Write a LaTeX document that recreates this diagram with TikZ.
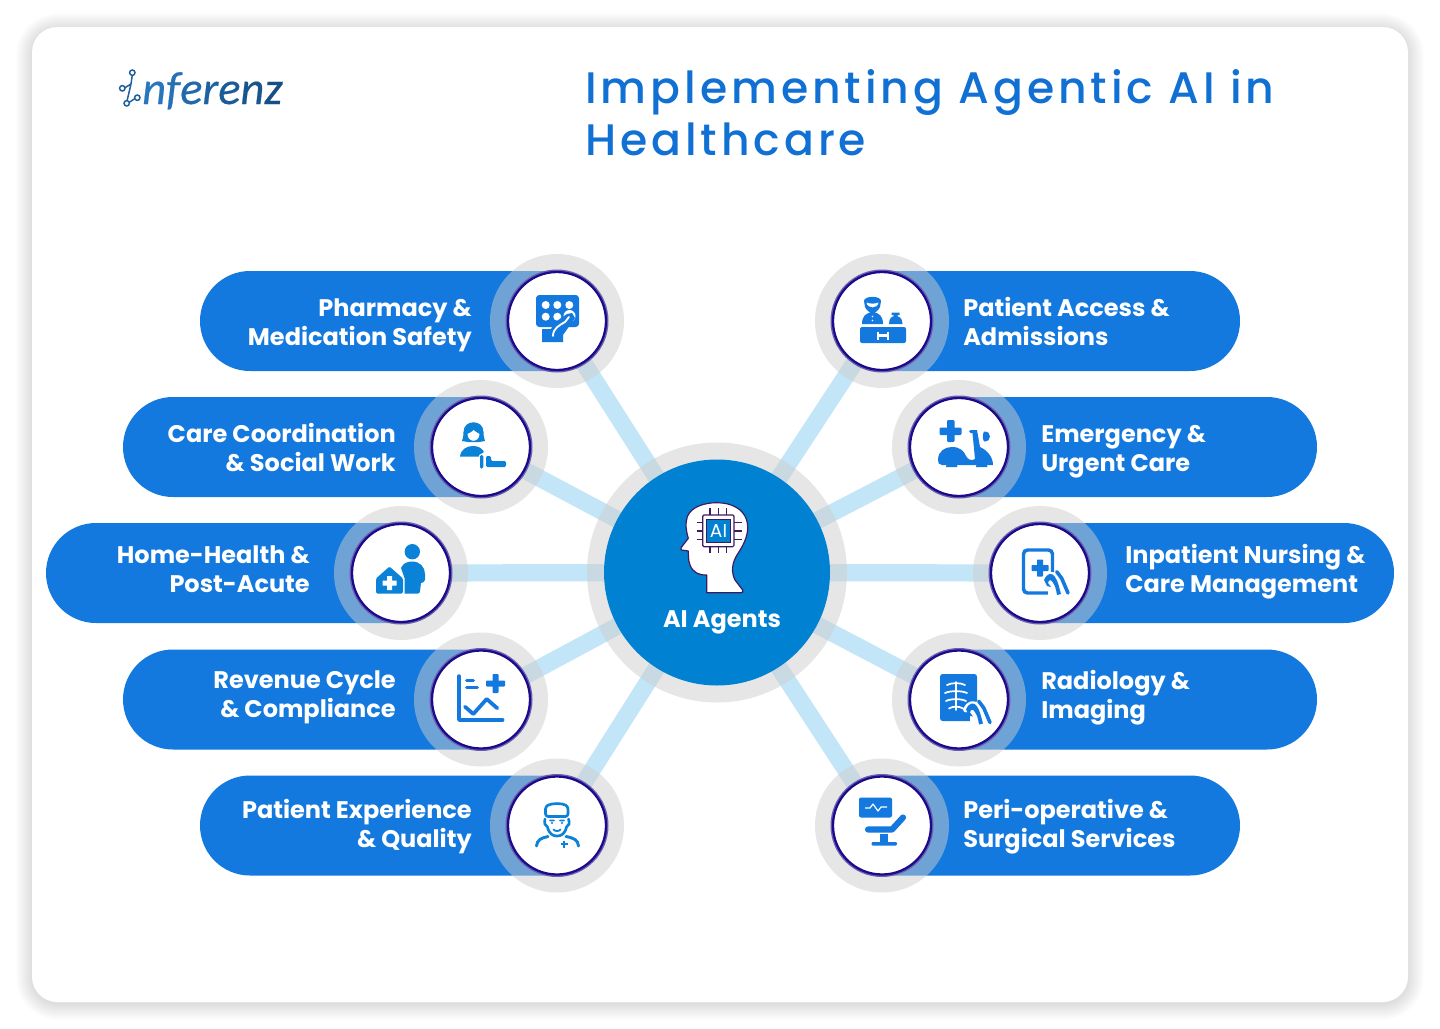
\documentclass[tikz,border=0pt]{standalone}
\usepackage{fontspec}
\setmainfont{Poppins}
\newfontfamily\popsb{Poppins}[UprightFont=* Bold]
\newfontfamily\popmed[LetterSpace=8.9]{Poppins Medium}
\newfontfamily\logof[ItalicFont=Carlito Italic,ItalicFeatures={FakeBold=0.4}]{Carlito}
\usetikzlibrary{calc}
\pgfdeclarelayer{pilllayer}\pgfdeclarelayer{connlayer}\pgfdeclarelayer{halolayer}
\pgfsetlayers{pilllayer,connlayer,halolayer,main}
\definecolor{pillc}{HTML}{1379DE}
\definecolor{hubc}{HTML}{0081D2}
\definecolor{connc}{HTML}{C2E5F8}
\definecolor{haloc}{HTML}{CECECE}
\definecolor{navyc}{HTML}{1A0A8C}
\definecolor{ringc}{HTML}{6B5EAE}
\definecolor{icA}{HTML}{1379DE}
\definecolor{icB}{HTML}{0A82D8}
\definecolor{titlec}{HTML}{1170D3}
\definecolor{headc}{HTML}{3E1A5E}
\tikzset{
  x=0.75pt,y=-0.75pt,
  conn/.style={draw=connc,line width=12.9pt},
  halo/.style={fill=haloc,fill opacity=.5},
  ring/.style={fill=ringc},
  disc/.style={circle,fill=white,draw=navyc,line width=1.7pt,minimum size=73.5pt,inner sep=0pt,outer sep=0pt},
  hubnode/.style={circle,fill=hubc,minimum size=169.5pt,inner sep=0pt,outer sep=0pt},
  lbl/.style={font=\popsb\fontsize{18pt}{21.75pt}\selectfont,text=white,inner sep=0pt},
  lblL/.style={lbl,align=right,anchor=east},
  lblR/.style={lbl,align=left,anchor=west},
  titlet/.style={font=\popmed\fontsize{33.1pt}{39pt}\selectfont,text=titlec,inner sep=0pt,anchor=base west},
  logot/.style={font=\logof\itshape\fontsize{34.8pt}{37pt}\selectfont,inner sep=0pt,anchor=base west},
}
\newcommand{\pillL}[3]{\fill[pillc] (#2,#3) [rounded corners=37.5pt] -- (#1,#3) -- (#1,#3+100) [sharp corners] -- (#2,#3+100) -- cycle;}
\newcommand{\pillR}[3]{\fill[pillc] (#1,#3) [rounded corners=37.5pt] -- (#2,#3) -- (#2,#3+100) [sharp corners] -- (#1,#3+100) -- cycle;}
\newcommand{\spoke}[4]{%
  \node[disc] (#1) at (#2,#3) {};
  \begin{pgfonlayer}{halolayer}
    \fill[halo] (#2,#3) circle[radius=67];
    \fill[ring] (#2,#3) circle[radius=51.5];
  \end{pgfonlayer}
  \begin{pgfonlayer}{connlayer}
    \draw[conn] (hub) -- (#1);
  \end{pgfonlayer}
}
\newcommand{\handicon}[2]{%
\begin{scope}[shift={(#1,#2)}]
  \fill[white] (-4,-7) -- (3,-9) -- (8,-3) -- (11,14) -- (-4,16) -- cycle;
  \draw[white,line width=4.4pt,line cap=round,line join=round] (-8,-1) .. controls (-5,-7) and (0,-8) .. (3,-4) .. controls (6,0) and (7,6) .. (9,13);
  \draw[icA,line width=2.7pt,line cap=round,line join=round] (4.7,-9.3) -- (9.7,-2.7) -- (16,12);
  \fill[icA,line join=round] (-8,-1) .. controls (-5,-8) and (0,-9) .. (3,-4) .. controls (6,0) and (7,6) .. (9,13) -- (5,14) .. controls (4,8) and (3,4) .. (0.5,1) .. controls (-1.5,-2) and (-3.5,-1) .. (-4,2) -- (-1,6) -- (-5,5) -- cycle;
\end{scope}}
\begin{document}
\begin{tikzpicture}
\useasboundingbox (0,0) rectangle (1440,1029);
\begin{pgfonlayer}{pilllayer}
  \fill[white] (0,0) rectangle (1440,1029);
  \foreach \i in {1,...,16}{
    \fill[black,opacity=.006,rounded corners={(26+\i)*0.75pt}] ({32-\i},{29-\i}) rectangle ({1408+\i},{1004+\i});
  }
  \fill[white,rounded corners=19pt] (32,27) rectangle (1408,1002);
  \pillL{200}{557}{271}
  \pillL{123}{481}{397}
  \pillL{46}{401}{523}
  \pillL{123}{481}{649.5}
  \pillL{200}{557}{775.5}
  \pillR{882}{1240}{271}
  \pillR{959}{1317}{397}
  \pillR{1040}{1394}{523}
  \pillR{959}{1317}{649.5}
  \pillR{882}{1240}{775.5}
\end{pgfonlayer}

% hub
\node[hubnode] (hub) at (717,572.5) {};
\begin{pgfonlayer}{halolayer}
  \fill[halo] (717,572.5) circle[radius=130];
\end{pgfonlayer}

\spoke{nPharm}{557}{321}{}
\spoke{nCare}{481}{447}{}
\spoke{nHome}{401}{573}{}
\spoke{nRev}{481}{699.5}{}
\spoke{nExp}{557}{825.5}{}
\spoke{nAccess}{882}{321}{}
\spoke{nEmerg}{959}{447}{}
\spoke{nInpat}{1040}{573}{}
\spoke{nRadio}{959}{699.5}{}
\spoke{nPeri}{882}{825.5}{}

% title and logo
\node[titlet] (title1) at (585,103) {Implementing Agentic AI in};
\node[titlet] (title2) at (585,155.5) {Healthcare};
\node[logot] (logoa) at (142,104) {\textcolor[HTML]{2A76BC}{n}\textcolor[HTML]{2570B6}{f}\textcolor[HTML]{2169AA}{e}\textcolor[HTML]{1E629F}{r}\textcolor[HTML]{1B5C96}{e}\textcolor[HTML]{18568C}{n}\textcolor[HTML]{154F83}{z}};
\begin{scope}[line width=1.1pt]
  \draw[color={rgb,255:red,31;green,95;blue,158}] (132.3,75)--(131,84)--(127,101) (124.5,88)--(131,84) (129,102.5)--(135,98.5);
  \foreach \a/\b in {132.3/72.7,122.3/88.3,126.7/103.3,137.3/97.7}
    \draw[color={rgb,255:red,31;green,95;blue,158},fill=white] (\a,\b) circle[radius=2.7];
\end{scope}

% labels
\node[lblL] (tPharm) at (472,325) {Pharmacy \&\\Medication Safety};
\node[lblL] (tCare) at (396,448) {Care Coordination\\\& Social Work};
\node[lblL] (tHome) at (310,569) {Home-Health \&\\Post-Acute};
\node[lblL] (tRev) at (396,697.5) {Revenue Cycle\\\& Compliance};
\node[lblL] (tExp) at (472,827) {Patient Experience\\\& Quality};
\node[lblR] (tAccess) at (963,321) {Patient Access \&\\Admissions};
\node[lblR] (tEmerg) at (1041,451.5) {Emergency \&\\Urgent Care};
\node[lblR] (tInpat) at (1125,571.5) {Inpatient Nursing \&\\Care Management};
\node[lblR] (tRadio) at (1041,697.5) {Radiology \&\\Imaging};
\node[lblR] (tPeri) at (963,827) {Peri-operative \&\\Surgical Services};
\node[font=\popsb\fontsize{18pt}{21pt}\selectfont,text=white,inner sep=0pt] (tHub) at (722,622.5) {AI Agents};

% hub head icon
\draw[fill=white,draw=headc,line width=.9pt,line join=round]
  (706.7,592.7)--(706.7,575) .. controls (700,575.5) and (693,573) .. (690,565)
  .. controls (688,560) and (688.5,555) .. (688.3,551) -- (681.5,550) .. controls (680,549) and (681,548) .. (682,546.5)
  -- (688.3,538.3) .. controls (686,530) and (685,524) .. (687.3,516.7)
  .. controls (691,507) and (704,502.7) .. (716.7,502.7)
  .. controls (732,502.7) and (743,509) .. (746.7,520)
  .. controls (750,532) and (745,543) .. (737,555) .. controls (732,563) and (731,572) .. (735,580)
  -- (742.7,590) .. controls (743.5,592) and (742.5,592.7) .. (741,592.7) -- cycle;
\draw[headc,line width=.9pt] (710,508.3)--(710,515) (718.3,508.3)--(718.3,515) (726.7,508.3)--(726.7,515)
  (710,546.7)--(710,553) (718.3,546.7)--(718.3,553) (726.7,546.7)--(726.7,553)
  (696.7,522.7)--(702.7,522.7) (696.7,531)--(702.7,531) (696.7,539.3)--(702.7,539.3)
  (734,522.7)--(741.7,522.7) (734,531)--(741.7,531) (734,539.3)--(741.7,539.3);
\draw[headc,fill=white,line width=.9pt,rounded corners=1pt] (702.7,515) rectangle (734,546.7);
\draw[headc,fill=hubc,line width=.7pt] (706.7,519) rectangle (730.3,542.7);
\node[text=white,inner sep=0pt,font=\fontsize{14pt}{14pt}\selectfont] (tAI) at (718.5,531) {AI};

% Pharmacy icon
\fill[icA,rounded corners=2.5pt] (536,295) rectangle (579,327);
\foreach \a in {545.7,557.3,569.3}{\fill[white] (\a,305) circle[radius=4];}
\foreach \a in {545.7,557.3}{\fill[white] (\a,316.7) circle[radius=4];}
\fill[white] (569.5,316) circle[radius=6];
\fill[icA] (542,329)--(551,329)--(554,323)--(567,314)--(572,313)--(575,318)--(563,335)--(563,342)--(542,342)--cycle;
\draw[white,line width=1.4pt,line cap=round] (553,336) .. controls (553,328) and (560,325) .. (565,322) -- (569,317);

% Care icon
\fill[icB] (462,441) .. controls (463,438) and (463.5,436) .. (463.5,432) .. controls (463.5,419) and (483.5,419) .. (483.5,432) .. controls (483.5,436) and (484,438) .. (485,441) -- (479,442) -- (468,442) -- cycle;
\fill[white] (467.5,434) .. controls (470,433) and (473,431) .. (473.5,430) .. controls (475,431) and (477,433) .. (479.5,434) .. controls (479,443) and (468,443) .. (467.5,434) -- cycle;
\fill[icB] (460,456.5) .. controls (461,449) and (467,446) .. (473,446) .. controls (478,446) and (482,448) .. (484,452) -- (479,455) -- (479,456.5) -- cycle;
\fill[icB,rounded corners=1pt] (480,455) rectangle (483.3,468.5);
\fill[icB,rounded corners=1pt] (486,456) -- (491,456) -- (491,461) -- (506,461) -- (506,467) -- (486,467) -- cycle;

% Home icon
\fill[icB] (412.3,551.7) circle[radius=7.7];
\fill[icB] (401,568) .. controls (403,563) and (408,561.5) .. (412,561.5) .. controls (420,561.5) and (425,567) .. (425,574) -- (425,580) .. controls (425,582) and (422,583) .. (421,583) -- (420,591) .. controls (420,593) and (419,593.5) .. (418,593.5) -- (408,593.5) -- (404.5,593.5) -- (404.5,578) -- cycle;
\fill[icB,rounded corners=1pt] (376,593.5) -- (376,578.5) -- (389.5,566.5) -- (403,578.5) -- (403,593.5) -- cycle;
\fill[white] (387,576) rectangle (392,590) (382.5,580.5) rectangle (396.5,585.5);

% Revenue icon
\draw[icA,line width=2.6pt,line cap=round,line join=round] (459,676)--(459,720)--(502.7,720);
\draw[icA,line width=2.6pt,line cap=round] (466.7,680.7)--(473.3,680.7) (466.7,687.3)--(477.3,687.3);
\fill[icA,rounded corners=.7pt] (492.5,674) rectangle (498.5,693);
\fill[icA,rounded corners=.7pt] (486,680.5) rectangle (505,686.5);
\draw[icA,line width=2.8pt,line cap=round,line join=round] (465,706.7)--(473.3,714)--(486.7,699)--(497.3,708.3);

% Doctor icon
\draw[icB,line width=2pt,line join=round,rounded corners=2pt] (545.5,806.5) .. controls (552,803) and (562,803) .. (568,806.5) -- (568,816.5) -- (545.5,816.5) -- cycle;
\draw[icB,line width=2pt,line cap=round] (545,819) .. controls (544,823) and (545,826) .. (547.5,827) .. controls (549,834) and (553,836) .. (557,836) .. controls (561,836) and (565,834) .. (566.5,827) .. controls (569,826) and (570,823) .. (568.5,819);
\draw[icB,line width=1.4pt,line cap=round] (550,820.5)--(554,820.5) (560,820.5)--(564,820.5) (553.5,829.5) .. controls (555,831.5) and (559,831.5) .. (560.5,829.5);
\fill[icB] (552,823) circle[radius=1.1] (562,823) circle[radius=1.1];
\draw[icB,line width=2.2pt,line cap=round] (536.5,846) .. controls (537,840) and (541,838) .. (548,836.5) (578.5,846) .. controls (578,840) and (574,838) .. (566,836.5);
\draw[icB,line width=1.8pt] (564,840.5)--(564,847.5) (560.5,844)--(567.5,844);

% Access icon
\fill[icA,rounded corners=1.5pt] (860,327) rectangle (906,343);
\draw[white,line width=1.7pt] (878,331.5)--(878,339.5) (888,331.5)--(888,339.5) (878,335.5)--(888,335.5);
\fill[icA] (864,301) .. controls (864,295.5) and (881,295.5) .. (881,301) -- (880,307) .. controls (879,310) and (875,312) .. (875,313) -- (870,313) .. controls (870,312) and (866,310) .. (865,307) -- cycle;
\fill[white] (866.5,302.5) .. controls (870,304) and (875,304) .. (878.5,302.5) .. controls (877.5,309) and (867.5,309) .. (866.5,302.5) -- cycle;
\fill[icA] (862,324) .. controls (862,316) and (866,312.5) .. (872.5,312.5) .. controls (879,312.5) and (883,316) .. (883,324) -- cycle;
\fill[white] (872.5,316.5) circle[radius=.9] (872.5,320.5) circle[radius=.9];
\fill[icA] (889,324) .. controls (889,318) and (892,316) .. (895.5,316) .. controls (899,316) and (902.5,318) .. (902.5,324) -- cycle;
\fill[icA] (891.5,312.5) rectangle (899.5,315) (893.5,314) rectangle (897.5,318);

% Emergency icon
\fill[icA,rounded corners=.8pt] (947,420) rectangle (954.5,442);
\fill[icA,rounded corners=.8pt] (939.5,427.5) rectangle (961.5,435);
\fill[icA] (938,460) .. controls (938,451) and (945,447) .. (952,447) .. controls (960,447) and (964,451) .. (966,456) .. controls (968,460) and (972,461) .. (975,459) -- (972.5,433) -- (970.5,433) .. controls (968.5,433) and (968.5,430) .. (970.5,430) -- (977,430) -- (980,447) .. controls (987,450) and (993,457) .. (993,465) -- (942,465) .. controls (939,465) and (938,463) .. (938,460) -- cycle;
\fill[icA] (984,431.5) .. controls (988,431.5) and (990,433.5) .. (990,436.5) .. controls (990,439.5) and (988,441.5) .. (984,441.5) .. controls (982.5,438.5) and (982.5,434.5) .. (984,431.5) -- cycle;
\fill[icA] (946,467) arc[start angle=180,end angle=360,radius=5.7] -- cycle;
\fill[icA] (976,467) arc[start angle=180,end angle=360,radius=5.7] -- cycle;

% Inpatient icon
\draw[icA,fill=white,line width=2.6pt,rounded corners=3pt] (1023.5,550) rectangle (1052.5,593);
\fill[icA,rounded corners=.5pt] (1037,559.5) rectangle (1043,576.5);
\fill[icA,rounded corners=.5pt] (1031.5,565) rectangle (1048.5,571);
\handicon{1052}{581}

% Radiology icon
\fill[icA,rounded corners=2pt] (940,674) rectangle (977,721);
\draw[white,line width=1.3pt,line cap=round] (956,682)--(956,710);
\foreach \yy/\w in {685/9,693/11,701/10,708.5/7}{
  \draw[white,line width=1.3pt,line cap=round] (956-\w,\yy) .. controls (956-\w/2,\yy-2.5) and (956+\w/2,\yy-2.5) .. (956+\w,\yy);
}
\handicon{974}{710.5}

% Peri-operative icon
\fill[icA,rounded corners=1.5pt] (859,797.5) rectangle (892,817.5);
\draw[white,line width=.9pt,line join=round] (865,808)--(870,808)--(873,804)--(878,811)--(881,807)--(887,807);
\draw[icA,line width=4.6pt,line cap=round,line join=round] (868,829.5)--(892,829.5)--(903,817.5);
\fill[icA] (880,834) rectangle (888,842);
\fill[icA,rounded corners=.8pt] (871.5,842) rectangle (897,845.5);
\end{tikzpicture}
\end{document}
